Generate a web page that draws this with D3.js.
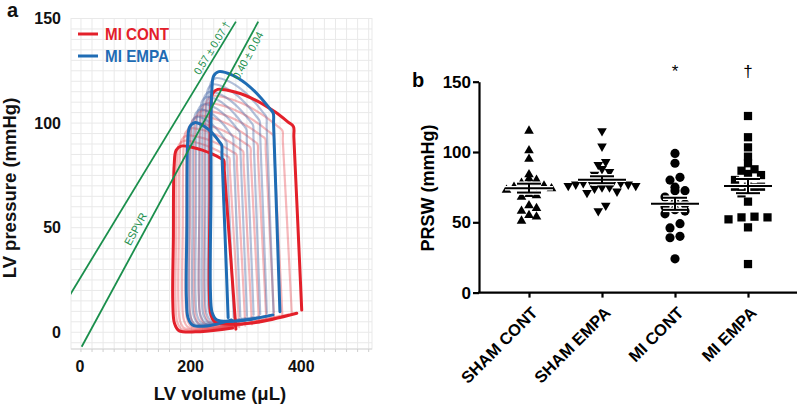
<!DOCTYPE html>
<html><head><meta charset="utf-8">
<script src="https://cdn.jsdelivr.net/npm/d3@7"></script>
<style>
body{margin:0;background:#fff}
svg{display:block}
text{font-family:"Liberation Sans",Arial,Helvetica,sans-serif}
</style>
</head><body>
<svg id="chart" width="797" height="406"></svg>
<script>
// ================= Panel a data =================
const volTicks = [0, 200, 400];
const presTicks = [0, 50, 100, 150];
const legendLabels = ["MI CONT", "MI EMPA"];
// PV-loop key values (volume µL, pressure mmHg):
// [vLeft, pPeak, vTopRight, pTopRight, vRightBottom, pRightBottom, pMin, vBottomEnd, pBottomEnd]
const contBoldLoops = [
  [234, 116.1, 384, 98.3, 399, 10.6, 4.3, 390, 9.1],
  [168, 89.0, 258, 82.3, 280, 1.5, 0.3, 274, 2.0]
];
const empaBoldLoops = [
  [236, 124.6, 347.5, 104.7, 359.6, 9.8, 5.5, 347, 8.3],
  [192.5, 100.2, 254.3, 89.5, 266, 7.0, 3.0, 272, 5.9]
];
const contFaintLoops = [
  [173, 91.5, 268, 83.5, 286, 2.4, 1.0, 281, 2.8],
  [178, 94.0, 281, 85.0, 297, 3.2, 1.4, 292, 3.6],
  [185, 97.5, 293, 86.5, 309, 3.8, 1.9, 305, 4.4],
  [191, 100.0, 306, 88.5, 322, 4.6, 2.3, 317, 5.2],
  [198, 103.5, 319, 90.0, 335, 5.8, 2.6, 331, 6.1],
  [206, 106.0, 333, 92.5, 349, 6.6, 3.1, 344, 6.9],
  [215, 109.5, 348, 94.0, 364, 7.9, 3.5, 358, 7.8],
  [224, 113.0, 364, 96.5, 381, 9.0, 3.9, 374, 8.5]
];
const empaFaintLoops = [
  [197, 103.0, 263, 91.0, 276, 7.2, 3.4, 280, 6.2],
  [203, 106.5, 275, 93.0, 288, 7.6, 3.7, 290, 6.6],
  [209, 109.0, 287, 95.5, 300, 8.0, 4.0, 301, 7.0],
  [215, 112.5, 299, 97.0, 312, 8.4, 4.3, 312, 7.3],
  [220, 115.0, 311, 99.0, 324, 8.8, 4.7, 323, 7.6],
  [226, 118.5, 323, 101.0, 336, 9.2, 5.0, 334, 7.9],
  [231, 121.5, 335, 103.0, 348, 9.5, 5.2, 343, 8.1]
];
// ESPVR lines (endpoints, volume / pressure)
const espvrA = [[-20, 17.8], [280, 148.5]];
const espvrB = [[1.3, -6.9], [320.4, 148.5]];
const espvrLabels = ["0.57 \u00b1 0.07 \u2020", "0.40 \u00b1 0.04", "ESPVR"];

// ================= Panel b data =================
const groups = ["SHAM CONT", "SHAM EMPA", "MI CONT", "MI EMPA"];
const shamCont = [115, 101, 95, 84, 81, 80, 78, 77, 77, 76, 76, 75, 74, 73, 70, 69, 68, 62, 60, 58, 55, 54, 51];
const shamEmpa = [115, 104, 93, 91, 88, 86, 84, 80, 79, 79, 79, 78, 78, 77, 77, 76, 76, 75, 75, 74, 72, 71, 62, 58];
const miCont = [99, 92, 80, 82, 72.5, 72.5, 75, 68, 63, 64, 61, 59, 56, 58, 46, 49, 39, 40, 24];
const miEmpa = [125.6, 110.5, 103.3, 96.7, 92, 87.7, 86.7, 83.6, 84.4, 80.1, 75.3, 74.9, 75.3, 75.3, 70.6, 64.7, 53.5, 54, 52.1, 53.5, 46.4, 20.3];
const prswTicks = [0, 50, 100, 150];
const sigMarks = ["", "", "*", "\u2020"];

// ================= Drawing =================
const svg = d3.select("#chart");
const RED = "#e3202a", BLUE = "#1f6cb4", GREEN = "#1a8f4c";

// ---------- Panel a ----------
const xa = d3.scaleLinear().domain([-18, 526]).range([71, 372]);
const ya = d3.scaleLinear().domain([-8, 150]).range([349, 18.5]);

const ga = svg.append("g");
const grid = ga.append("g").attr("stroke", "#e9e9e9").attr("stroke-width", 1);
d3.range(0, 521, 20).forEach(v => grid.append("line")
  .attr("x1", xa(v)).attr("x2", xa(v)).attr("y1", ya(-8)).attr("y2", ya(150)));
d3.range(-5, 151, 5).forEach(v => grid.append("line")
  .attr("x1", xa(-18)).attr("x2", xa(526)).attr("y1", ya(v)).attr("y2", ya(v)));
grid.append("rect").attr("x", xa(-18)).attr("y", ya(150)).attr("width", xa(526) - xa(-18))
  .attr("height", ya(-8) - ya(150)).attr("fill", "none");
ga.append("line").attr("x1", xa(-18)).attr("x2", xa(526)).attr("y1", ya(-8)).attr("y2", ya(-8))
  .attr("stroke", "#d6d6d6").attr("stroke-width", 1);
d3.range(0, 521, 20).forEach(v => ga.append("line")
  .attr("x1", xa(v)).attr("x2", xa(v)).attr("y1", ya(-8)).attr("y2", ya(-8) + 3)
  .attr("stroke", "#cfcfcf").attr("stroke-width", 1));

ga.selectAll("text.yt").data(presTicks).join("text").attr("class", "yt")
  .attr("x", 61).attr("y", d => ya(d)).attr("dy", "0.36em").attr("text-anchor", "end")
  .attr("font-size", 16).attr("font-weight", "bold").attr("fill", "#111").text(d => d);
ga.selectAll("text.xt").data(volTicks).join("text").attr("class", "xt")
  .attr("x", d => xa(d) - 1).attr("y", 372).attr("text-anchor", "middle")
  .attr("font-size", 16).attr("font-weight", "bold").attr("fill", "#111").text(d => d);
ga.append("text").attr("transform", "translate(16,188) rotate(-90)").attr("text-anchor", "middle")
  .attr("font-size", 18.5).attr("font-weight", "bold").attr("fill", "#111").text("LV pressure (mmHg)");
ga.append("text").attr("x", 220).attr("y", 400).attr("text-anchor", "middle")
  .attr("font-size", 18.5).attr("font-weight", "bold").attr("fill", "#111").text("LV volume (\u03bcL)");
ga.append("text").attr("x", 7).attr("y", 17).attr("font-size", 20).attr("font-weight", "bold").attr("fill", "#111").text("a");

svg.append("clipPath").attr("id", "clipA").append("rect")
  .attr("x", xa(-18)).attr("y", 0).attr("width", xa(526) - xa(-18)).attr("height", ya(-8));
const plotA = ga.append("g").attr("clip-path", "url(#clipA)");

function loopPoints(d) {
  const [vL, pPk, vTR, pTR, vRB, pRB, pMin, vBE, pBE] = d;
  const vPk = vL + 13;
  const pts = [];
  pts.push([vRB, pRB]);
  pts.push([vRB + (vTR - vRB) * 0.5, pRB + (pTR - pRB) * 0.5]);
  pts.push([vTR + (vRB - vTR) * 0.05, pTR - 5]);
  pts.push([vTR, pTR]);
  [0.93, 0.75, 0.5, 0.25, 0].forEach(t =>
    pts.push([vPk + t * (vTR - vPk), pPk - (pPk - pTR) * Math.pow(t, 1.8)]));
  pts.push([vL + 4, pPk - 2]);
  pts.push([vL + 0.5, pPk - 9]);
  pts.push([vL - 1, (pPk + pMin) / 2]);
  pts.push([vL - 2, pMin + 14]);
  pts.push([vL + 1, pMin + 4]);
  pts.push([vL + 9, pMin + 0.5]);
  pts.push([vL + (vBE - vL) * 0.45, pMin]);
  pts.push([vBE, pBE]);
  return pts;
}
const loopLine = d3.line().x(p => xa(p[0])).y(p => ya(p[1])).curve(d3.curveCatmullRom.alpha(0.5));

function drawLoops(data, color, width, opacity) {
  plotA.append("g").selectAll("path").data(data).join("path")
    .attr("d", d => loopLine(loopPoints(d)))
    .attr("fill", "none").attr("stroke", color).attr("stroke-width", width)
    .attr("stroke-opacity", opacity).attr("stroke-linejoin", "round").attr("stroke-linecap", "round");
}
drawLoops(contFaintLoops, "#e8444b", 2.2, 0.38);
drawLoops(empaFaintLoops, "#4a68a8", 2.2, 0.42);
drawLoops(contBoldLoops, RED, 3, 1);
drawLoops(empaBoldLoops, BLUE, 3, 1);

const straight = d3.line().x(p => xa(p[0])).y(p => ya(p[1]));
[espvrA, espvrB].forEach(l => plotA.append("path").attr("d", straight(l))
  .attr("stroke", GREEN).attr("stroke-width", 1.8).attr("fill", "none"));

function lineLabel(l, pAt, offset, txt, len) {
  const x1 = xa(l[0][0]), y1 = ya(l[0][1]), x2 = xa(l[1][0]), y2 = ya(l[1][1]);
  const L = Math.hypot(x2 - x1, y2 - y1), ux = (x2 - x1) / L, uy = (y2 - y1) / L;
  const t = (pAt - l[0][1]) / (l[1][1] - l[0][1]);
  const px = x1 + t * (x2 - x1) + offset * uy, py = y1 + t * (y2 - y1) - offset * ux;
  const ang = Math.atan2(uy, ux) * 180 / Math.PI;
  ga.append("text").attr("transform", `translate(${px},${py}) rotate(${ang})`)
    .attr("font-size", 11).attr("fill", GREEN).attr("textLength", len).attr("lengthAdjust", "spacingAndGlyphs")
    .text(txt);
}
lineLabel(espvrA, 122, 3, espvrLabels[0], 60);
lineLabel(espvrB, 123, -11, espvrLabels[1], 52);
lineLabel(espvrB, 40, 5, espvrLabels[2], 35);

const leg = ga.append("g");
[RED, BLUE].forEach((c, i) => {
  leg.append("line").attr("x1", 78).attr("x2", 98).attr("y1", 34 + i * 22).attr("y2", 34 + i * 22)
    .attr("stroke", c).attr("stroke-width", 3);
  leg.append("text").attr("x", 105).attr("y", 40 + i * 22).attr("font-size", 17).attr("font-weight", "bold")
    .attr("fill", c).attr("textLength", 64).attr("lengthAdjust", "spacingAndGlyphs").text(legendLabels[i]);
});

// ---------- Panel b ----------
const yb = d3.scaleLinear().domain([0, 150]).range([292.6, 81.7]);
const xb = d3.scalePoint().domain(groups).range([529, 748]);
const gb = svg.append("g");

const yAxis = gb.append("g").attr("transform", "translate(479,0)")
  .call(d3.axisLeft(yb).tickValues(prswTicks).tickSize(6).tickSizeOuter(0).tickPadding(2));
yAxis.select(".domain").attr("stroke-width", 2.2).attr("stroke", "#000");
yAxis.selectAll(".tick line").attr("stroke-width", 2.2).attr("stroke", "#000");
yAxis.selectAll(".tick text").attr("font-size", 17).attr("font-weight", "bold").attr("fill", "#000")
  .attr("font-family", "Liberation Sans, Arial, sans-serif");

gb.append("line").attr("x1", 478).attr("x2", 797).attr("y1", yb(0)).attr("y2", yb(0))
  .attr("stroke", "#000").attr("stroke-width", 2.2);
const xAxis = gb.append("g").attr("transform", `translate(0,${yb(0)})`)
  .call(d3.axisBottom(xb).tickSize(5).tickSizeOuter(0));
xAxis.select(".domain").remove();
xAxis.selectAll(".tick line").attr("stroke-width", 2.2).attr("stroke", "#000");
xAxis.selectAll(".tick text").attr("x", 0).attr("y", 0).attr("dy", "0.36em")
  .attr("transform", "translate(5,17) rotate(-45)").attr("text-anchor", "end")
  .attr("font-size", 16.5).attr("font-weight", "bold").attr("fill", "#000")
  .attr("font-family", "Liberation Sans, Arial, sans-serif");

gb.append("text").attr("transform", "translate(434,188) rotate(-90)").attr("text-anchor", "middle")
  .attr("font-size", 18).attr("font-weight", "bold").attr("fill", "#000").text("PRSW (mmHg)");
gb.append("text").attr("x", 412).attr("y", 87).attr("font-size", 20).attr("font-weight", "bold").attr("fill", "#000").text("b");

function swarm(values, tol, gap) {
  const sorted = values.slice().sort((a, b) => a - b);
  const rows = []; let cur = null;
  sorted.forEach(v => {
    if (!cur || v - cur.start > tol) { cur = { start: v, vals: [] }; rows.push(cur); }
    cur.vals.push(v);
  });
  const out = [];
  rows.forEach(r => {
    const n = r.vals.length;
    r.vals.forEach((v, i) => {
      const k = i % 2 === 0 ? i / 2 : n - 1 - (i - 1) / 2;
      const slot = n === 1 ? 0 : k;
      out.push({ v, dx: (slot - (n - 1) / 2) * gap });
    });
  });
  return out;
}
const series = [shamCont, shamEmpa, miCont, miEmpa];
const symbols = [
  { type: d3.symbolTriangle, size: 40, rot: 0, tol: 4, gap: 7.5 },
  { type: d3.symbolTriangle, size: 40, rot: 180, tol: 4, gap: 7.5 },
  { type: d3.symbolCircle, size: 66, rot: 0, tol: 4.5, gap: 10 },
  { type: d3.symbolSquare, size: 68, rot: 0, tol: 4.5, gap: 13 }
];
series.forEach((vals, gi) => {
  const cx = xb(groups[gi]);
  const s = symbols[gi];
  const pts = swarm(vals, s.tol, s.gap);
  gb.append("g").selectAll("path").data(pts).join("path")
    .attr("d", d3.symbol().type(s.type).size(s.size))
    .attr("transform", d => `translate(${cx + d.dx},${yb(d.v)}) rotate(${s.rot})`)
    .attr("fill", "#000");
  const m = d3.mean(vals), sem = d3.deviation(vals) / Math.sqrt(vals.length);
  const eb = gb.append("g");
  const segs = [
    [cx - 24, yb(m), cx + 24, yb(m)],
    [cx, yb(m - sem), cx, yb(m + sem)],
    [cx - 12, yb(m + sem), cx + 12, yb(m + sem)],
    [cx - 12, yb(m - sem), cx + 12, yb(m - sem)]
  ];
  [["#fff", 4.5], ["#000", 2]].forEach(([c, w]) => segs.forEach(q => eb.append("line")
    .attr("x1", q[0]).attr("y1", q[1]).attr("x2", q[2]).attr("y2", q[3])
    .attr("stroke", c).attr("stroke-width", w)));
  if (sigMarks[gi]) gb.append("text").attr("x", cx).attr("y", 77).attr("text-anchor", "middle")
    .attr("font-size", 17).attr("fill", "#000").text(sigMarks[gi]);
});
</script>
</body></html>
